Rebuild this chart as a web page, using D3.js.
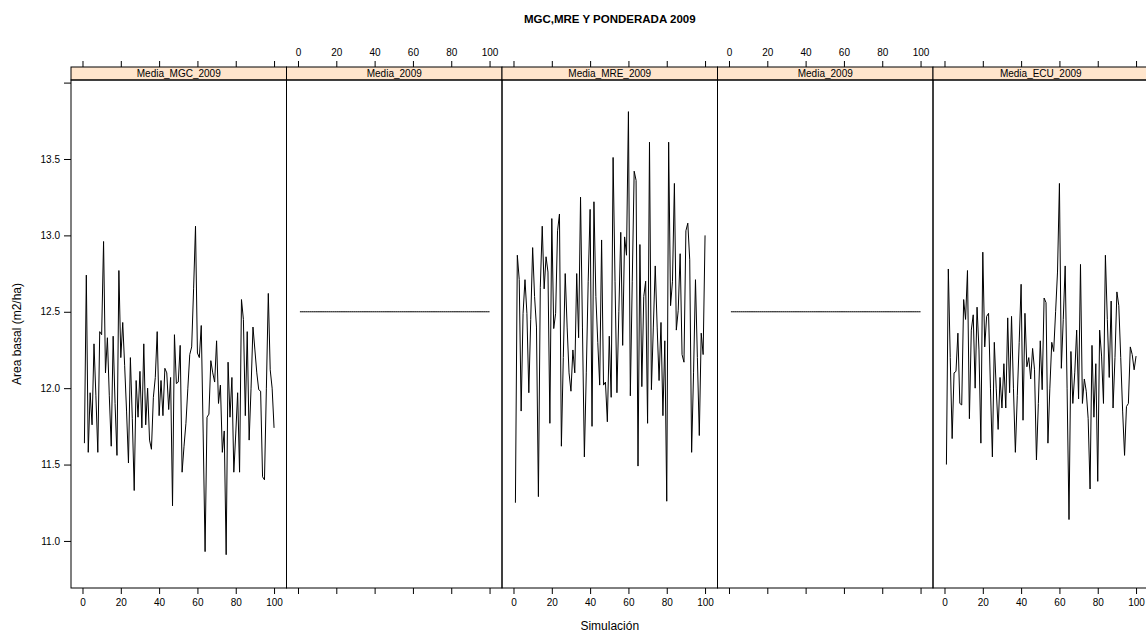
<!DOCTYPE html>
<html>
<head>
<meta charset="utf-8">
<script src="https://cdn.jsdelivr.net/npm/d3@7/dist/d3.min.js"></script>
<style>
  html, body { margin: 0; padding: 0; background: #fff; }
  svg { display: block; font-family: "Liberation Sans", Arial, Helvetica, sans-serif; }
</style>
</head>
<body>
<svg id="chart" width="1146" height="636"></svg>
<script>
// Panel names, in display order
const panelNames = ["Media_MGC_2009", "Media_2009", "Media_MRE_2009", "Media_2009", "Media_ECU_2009"];

// Simulation index
const simulacion = d3.range(1, 101);

// Basal area per simulation (m2/ha)
const mediaMGC2009 = [
  11.64, 12.74, 11.58, 11.97, 11.76, 12.29, 11.95, 11.58, 12.37, 12.35,
  12.96, 12.10, 12.33, 11.95, 11.62, 12.34, 11.90, 11.56, 12.77, 12.20,
  12.43, 12.15, 11.85, 11.51,
  12.20, 11.80, 11.33, 12.05, 11.81, 12.11, 11.74, 12.29, 11.76, 12.00,
  11.66, 11.60, 11.94, 12.07, 12.37, 11.82, 12.05, 11.82, 12.13, 12.10,
  11.86, 12.07, 11.23, 12.35,
  12.03, 12.04, 12.28, 11.45, 11.62, 11.77, 12.00, 12.22, 12.27, 12.65,
  13.06, 12.23, 12.20, 12.41, 11.70, 10.93, 11.81, 11.83, 12.18, 12.10,
  12.04, 12.31, 11.90, 12.02,
  11.58, 11.72, 10.91, 12.17, 11.81, 12.07, 11.45, 11.70, 11.97, 11.45,
  12.58, 12.45, 11.82, 12.37, 11.66, 12.00, 12.40, 12.25, 12.10, 11.99,
  11.98, 11.42, 11.40, 12.00, 12.62, 12.12, 12.00, 11.74
];

const media2009 = 12.5;

const mediaMRE2009 = [
  11.25, 12.87, 12.71, 11.85, 12.49, 12.71, 12.49, 11.97, 12.45, 12.92,
  12.60, 12.40, 11.29, 12.66, 13.06, 12.65, 12.86, 12.76, 11.77, 13.11,
  12.39, 12.49, 13.03, 13.14,
  11.62, 12.20, 12.75, 12.40, 12.10, 11.98, 12.25, 12.10, 12.75, 12.33,
  13.25, 12.40, 11.55, 12.10, 12.70, 13.17, 11.75, 13.22, 12.60, 12.30,
  12.02, 12.97, 12.02, 12.04, 11.78,
  12.34, 11.94, 13.51, 12.70, 11.97, 12.50, 13.02, 12.28, 12.99, 12.87,
  13.81, 11.95, 12.70, 13.42, 13.36, 11.49, 12.94, 12.01, 12.60, 12.70,
  11.77, 13.61, 11.99, 12.40, 12.80,
  12.40, 12.05, 12.43, 11.82, 12.31, 11.26, 13.61, 12.54, 12.70, 13.34,
  12.38, 12.51, 12.88, 12.22, 12.17, 13.03, 13.08, 12.84, 11.58, 12.10,
  12.71, 12.20, 11.69, 12.36, 12.22, 13.00
];

const mediaECU2009 = [
  11.50, 12.78, 12.20, 11.67, 12.10, 12.11, 12.36, 11.90, 11.89, 12.58,
  12.45, 12.77, 11.80, 12.38, 12.48, 12.00, 12.53, 12.25, 11.64, 12.89,
  12.27, 12.47, 12.49,
  12.00, 11.55, 12.30, 12.00, 11.73, 12.07, 11.87, 12.16, 11.87, 12.46,
  11.97, 12.47, 12.00, 11.58, 11.95, 12.30, 12.68, 11.79, 12.49, 12.14,
  12.20, 12.06, 12.26, 12.12, 11.53,
  11.90, 12.31, 11.99, 12.59, 12.56, 11.64, 12.00, 12.30, 12.24, 12.50,
  12.76, 13.34, 12.13, 12.45, 12.80, 12.00, 11.14, 12.24, 11.90, 12.10,
  12.38, 11.93, 12.81, 11.90, 12.06,
  11.98, 11.80, 11.34, 12.28, 11.81, 12.16, 11.39, 12.38, 12.21, 11.90,
  12.87, 12.45, 12.07, 12.57, 11.87, 12.20, 12.63, 12.54, 12.20, 11.85,
  11.56, 11.88, 11.90, 12.27, 12.22, 12.12, 12.21
];

const xTicks = [0, 20, 40, 60, 80, 100];
const yTicks = [11.0, 11.5, 12.0, 12.5, 13.0, 13.5, 14.0];
const yTickLabels = ["11.0", "11.5", "12.0", "12.5", "13.0", "13.5", ""];

const titleText = "MGC,MRE Y PONDERADA 2009";
const xLabel = "Simulación";
const yLabel = "Area basal (m2/ha)";

// ---- layout ----
const svg = d3.select("#chart");
const panelLeft = 71;
const panelWidth = 215.5;
const stripTop = 67;
const stripHeight = 13;
const plotTop = stripTop + stripHeight;
const plotBottom = 588;

const series = [
  mediaMGC2009,
  simulacion.map(() => media2009),
  mediaMRE2009,
  simulacion.map(() => media2009),
  mediaECU2009
];

const y = d3.scaleLinear().domain([10.692, 14.017]).range([plotBottom, plotTop]);

// Title
svg.append("text")
  .attr("x", panelLeft + panelWidth * 5 / 2)
  .attr("y", 23)
  .attr("text-anchor", "middle")
  .attr("font-size", 11.5)
  .attr("font-weight", "bold")
  .text(titleText);

panelNames.forEach((name, p) => {
  const x0 = panelLeft + p * panelWidth;
  const x = d3.scaleLinear().domain([-6, 106.5]).range([x0, x0 + panelWidth]);
  const g = svg.append("g");

  // strip
  g.append("rect")
    .attr("x", x0).attr("y", stripTop)
    .attr("width", panelWidth).attr("height", stripHeight)
    .attr("fill", "#ffe5cc").attr("stroke", "#000").attr("stroke-width", 1);
  g.append("text")
    .attr("x", x0 + panelWidth / 2)
    .attr("y", stripTop + stripHeight / 2 + 3.8)
    .attr("text-anchor", "middle")
    .attr("font-size", 10)
    .text(name);

  // data line
  const line = d3.line().x((d, i) => x(simulacion[i])).y(d => y(d));
  g.append("path")
    .datum(series[p])
    .attr("d", line)
    .attr("fill", "none")
    .attr("stroke", "#000")
    .attr("stroke-width", 1);

  // panel frame
  g.append("rect")
    .attr("x", x0).attr("y", plotTop)
    .attr("width", panelWidth).attr("height", plotBottom - plotTop)
    .attr("fill", "none").attr("stroke", "#000").attr("stroke-width", 1);

  // bottom axis: labels on alternate panels, ticks everywhere
  const bottom = d3.axisBottom(x).tickValues(xTicks).tickSize(6).tickPadding(5)
    .tickFormat(p % 2 === 0 ? d3.format("d") : () => "");
  const gb = g.append("g").attr("transform", `translate(0,${plotBottom})`).call(bottom);
  // top axis: labels on the other panels
  const top = d3.axisTop(x).tickValues(xTicks).tickSize(6).tickPadding(5)
    .tickFormat(p % 2 === 1 ? d3.format("d") : () => "");
  const gt = g.append("g").attr("transform", `translate(0,${stripTop})`).call(top);

  [gb, gt].forEach(ax => {
    ax.select(".domain").remove();
    ax.selectAll("line").attr("stroke", "#000");
    ax.selectAll("text").attr("font-size", 10).attr("fill", "#000")
      .attr("font-family", "Liberation Sans, Arial, sans-serif");
  });
});

// left y axis
const left = d3.axisLeft(y).tickValues(yTicks).tickSize(7).tickPadding(4)
  .tickFormat((d, i) => yTickLabels[i]);
const gl = svg.append("g").attr("transform", `translate(${panelLeft},0)`).call(left);
gl.select(".domain").remove();
gl.selectAll("line").attr("stroke", "#000");
gl.selectAll("text").attr("font-size", 10).attr("fill", "#000")
  .attr("font-family", "Liberation Sans, Arial, sans-serif");

// axis titles
svg.append("text")
  .attr("x", panelLeft + panelWidth * 5 / 2)
  .attr("y", 630)
  .attr("text-anchor", "middle")
  .attr("font-size", 12)
  .text(xLabel);

svg.append("text")
  .attr("transform", `translate(21,${(plotTop + plotBottom) / 2}) rotate(-90)`)
  .attr("text-anchor", "middle")
  .attr("font-size", 12)
  .text(yLabel);
</script>
</body>
</html>
